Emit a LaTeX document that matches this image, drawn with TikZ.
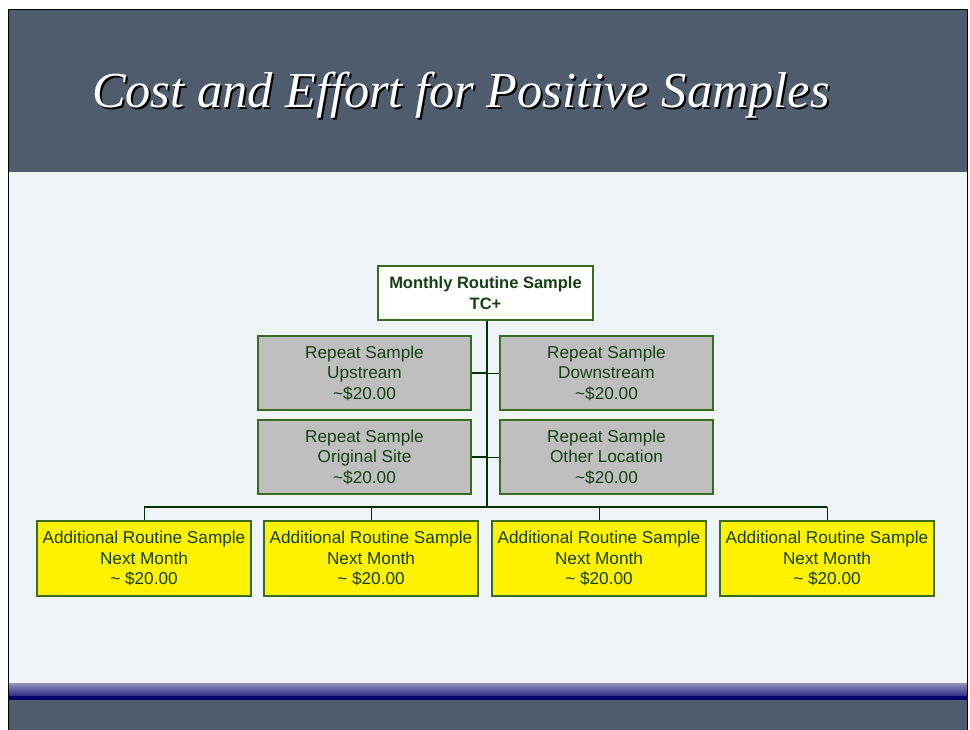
\documentclass[tikz,border=0pt]{standalone}
\usepackage{fontspec}
\setmainfont{Liberation Serif}
\setsansfont{Liberation Sans}
\usepackage{xcolor}
\definecolor{slate}{RGB}{78,92,110}
\definecolor{paper}{RGB}{239,244,248}
\definecolor{boxline}{RGB}{58,108,30}
\definecolor{boxtext}{RGB}{20,64,20}
\definecolor{trunk}{RGB}{0,48,0}
\definecolor{lavender}{RGB}{146,146,190}
\definecolor{navy}{RGB}{0,0,110}
\newcommand{\shadowed}[1]{\rlap{\hspace{2pt}\raisebox{-2pt}{\textcolor{black}{#1}}}\textcolor{white}{#1}}

\begin{document}
\begin{tikzpicture}[x=1pt,y=1pt,
  card/.style={draw=boxline,line width=1.5pt,minimum width=213pt,minimum height=74pt,
    align=center,inner sep=0pt,font=\sffamily\fontsize{17.2}{20.5}\selectfont,text=boxtext},
  repeatbox/.style={card,fill=black!25},
  nextbox/.style={card,fill=yellow,minimum width=214pt,minimum height=75pt},
  headbox/.style={card,fill=white,minimum width=215pt,minimum height=54pt,
    font=\sffamily\bfseries\fontsize{16.5}{20.5}\selectfont},
  wire/.style={draw=trunk,line width=0.8pt}]
\useasboundingbox (0,0) rectangle (970,-730);
\fill[white] (0,0) rectangle (970,-730);
% slide
\fill[slate] (8,-10) rectangle (967,-172);
\fill[paper] (8,-172) rectangle (967,-683);
\shade[top color=lavender,bottom color=navy!70!lavender] (8,-683) rectangle (967,-696);
\fill[navy] (8,-696) rectangle (967,-700);
\fill[slate] (8,-700) rectangle (967,-730);
\draw[black,line width=1pt] (8,-730) -- (8,-10) -- (967,-10) -- (967,-730);
%Text
\node[anchor=base,inner sep=0pt,font=\itshape\fontsize{50.4}{52}\selectfont] (title) at (461,-108) {\shadowed{Cost and Effort for Positive Samples}};
% chart
\node[headbox] (head) at (485.5,-293) {Monthly Routine Sample\\TC+};
\node[repeatbox] (up) at (364.5,-373) {Repeat Sample\\Upstream\\\textasciitilde\$20.00};
\node[repeatbox] (down) at (606.5,-373) {Repeat Sample\\Downstream\\\textasciitilde\$20.00};
\node[repeatbox] (site) at (364.5,-457) {Repeat Sample\\Original Site\\\textasciitilde\$20.00};
\node[repeatbox] (other) at (606.5,-457) {Repeat Sample\\Other Location\\\textasciitilde\$20.00};
\node[nextbox] (nm1) at (144,-558.5) {Additional Routine Sample\\Next Month\\\textasciitilde{} \$20.00};
\node[nextbox] (nm2) at (371,-558.5) {Additional Routine Sample\\Next Month\\\textasciitilde{} \$20.00};
\node[nextbox] (nm3) at (599,-558.5) {Additional Routine Sample\\Next Month\\\textasciitilde{} \$20.00};
\node[nextbox] (nm4) at (827,-558.5) {Additional Routine Sample\\Next Month\\\textasciitilde{} \$20.00};
\coordinate (bus) at (487,-507);
\draw[wire,line width=2pt] (head.south -| bus) -- (bus);
\draw[wire,line width=2pt] (up.east) -- (up.east -| bus);
\draw[wire] (up.east -| bus) -- (down.west);
\draw[wire,line width=2pt] (site.east) -- (site.east -| bus);
\draw[wire] (site.east -| bus) -- (other.west);
\draw[wire,line width=2pt] (nm1.north |- bus) -- (nm4.north |- bus);
\foreach \n in {nm1,nm2,nm3,nm4}
  \draw[wire] (\n.north |- bus) -- (\n.north);
\end{tikzpicture}
\end{document}
